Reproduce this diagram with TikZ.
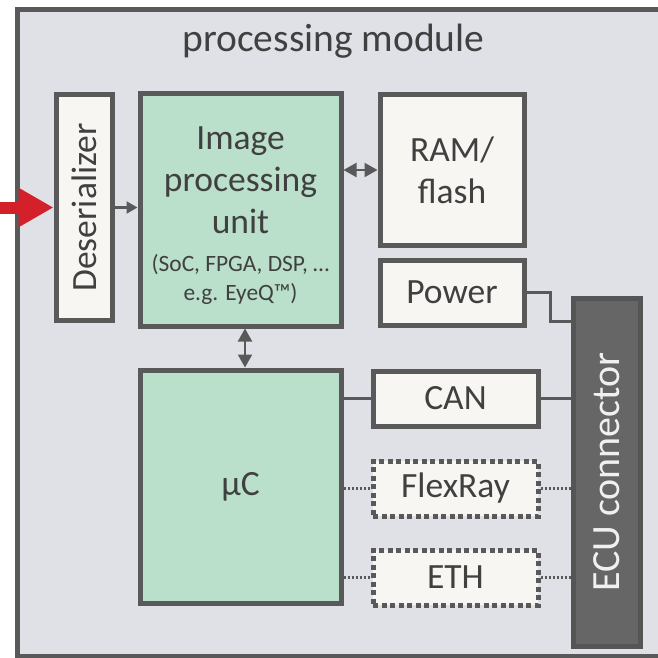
\documentclass[tikz,border=0pt]{standalone}
\usepackage{fontspec}
\setmainfont{Carlito}
\usetikzlibrary{arrows.meta,calc}

\definecolor{panelfill}{HTML}{DFE1E6}
\definecolor{edge}{HTML}{595959}
\definecolor{boxfill}{HTML}{F7F6F2}
\definecolor{unitfill}{HTML}{BADFCB}
\definecolor{connfill}{HTML}{666666}
\definecolor{connedge}{HTML}{555555}
\definecolor{ink}{HTML}{404040}
\definecolor{signal}{HTML}{D42029}

\newcommand{\fsmain}{\fontsize{35.5}{42}\selectfont}
\newcommand{\fstitle}{\fontsize{39.5}{45}\selectfont}
\newcommand{\fssmall}{\fontsize{23.4}{26}\selectfont}
\newcommand{\fsconn}{\fontsize{40}{46}\selectfont}

\tikzset{
  block/.style={draw=edge, line width=5pt, fill=boxfill, text=ink,
    inner sep=0pt, align=center, font=\fsmain},
  unit/.style={block, fill=unitfill},
  optional/.style={block, dash pattern=on 5pt off 3.5pt},
  conn/.style={draw=connedge, line width=5pt, fill=connfill, inner sep=0pt},
  label/.style={text=ink, inner sep=0pt, align=center, font=\fsmain},
  wire/.style={draw=edge, line width=2.2pt},
  optwire/.style={draw=edge, line width=2.2pt, dash pattern=on 2pt off 2pt},
  bus/.style={wire, {Triangle[length=13pt,width=14pt]}-{Triangle[length=13pt,width=14pt]}},
  feed/.style={wire, -{Triangle[length=11pt,width=12pt]}},
}

\begin{document}
\begin{tikzpicture}[x=1pt, y=-1pt]
\useasboundingbox (0,0) rectangle (658,658);
\clip (0,0) rectangle (658,658);

% module housing
\draw[draw=edge, fill=panelfill, line width=5pt] (17.5,9.5) rectangle (700,656);
\node[anchor=base, text=ink, font=\fstitle] (title) at (333.5,52) {processing module};

% blocks
\node[block, minimum width=56pt, minimum height=225pt] (des) at (84,207.5) {};
\node[label, rotate=90] (deslabel) at (des.center) {Deserializer};
\node[unit, minimum width=201pt, minimum height=232pt] (ipu) at (240.5,210) {};
\node[label] (ipulabel) at ([yshift=-6pt]ipu.center)
  {Image\\processing\\unit\\[-4pt]{\fssmall (SoC, FPGA, DSP, …}\\[-13pt]{\fssmall e.g. EyeQ™)}};
\node[block, minimum width=144pt, minimum height=150pt] (ram) at (452,170) {RAM/\\flash};
\node[block, minimum width=144pt, minimum height=65pt] (pw) at (452,292.5) {Power};
\node[unit, minimum width=201pt, minimum height=233pt] (uc) at (240.5,486.5) {µC};
\node[block, minimum width=165pt, minimum height=55pt] (can) at (455.5,398.5) {CAN};
\node[optional, minimum width=165pt, minimum height=55pt] (fr) at (455.5,488.5) {FlexRay};
\node[optional, minimum width=165pt, minimum height=55pt] (eth) at (455.5,577.5) {ETH};
\node[conn, minimum width=67pt, minimum height=348pt] (ecu) at (606.5,472) {};
\node[label, rotate=90, text=white!94!black, font=\fsconn] (eculabel) at (ecu.center) {ECU connector};

% incoming video link
\coordinate (camin) at (0,207.5);
\draw[signal, line width=12pt, -{Triangle[length=35pt,width=37pt]}] (camin) -- (des.west);

% internal links
\draw[feed] (des.east) -- (des.east -| ipu.west);
\draw[bus] (ram.west -| ipu.east) -- (ram.west);
\draw[bus] ([xshift=4.5pt]ipu.south) -- ([xshift=4.5pt]uc.north);
\draw[wire] (pw.east) -- ++(24,0) |- ([yshift=-26pt]ecu.north west);
\draw[wire] (can.west -| uc.east) -- (can.west);
\draw[wire] (can.east) -- (can.east -| ecu.west);
\draw[optwire] (fr.west -| uc.east) -- (fr.west);
\draw[optwire] (fr.east) -- (fr.east -| ecu.west);
\draw[optwire] (eth.west -| uc.east) -- (eth.west);
\draw[optwire] (eth.east) -- (eth.east -| ecu.west);
\end{tikzpicture}
\end{document}
